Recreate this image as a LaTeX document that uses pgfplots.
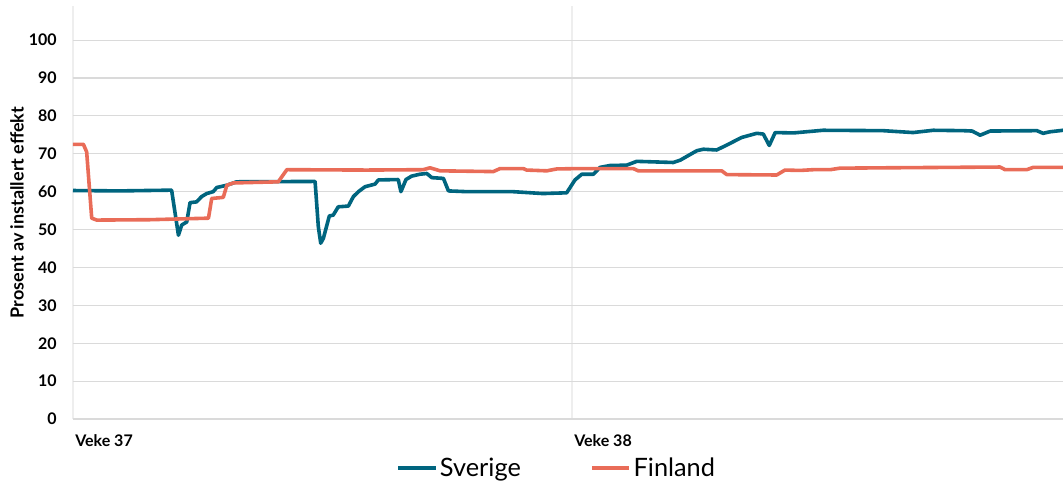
\documentclass[border=0pt]{standalone}
\usepackage{pgfplots}
\pgfplotsset{compat=1.18}
\usepackage{fontspec}
\setmainfont{Lato}
\definecolor{sve}{RGB}{0,101,127}
\definecolor{fin}{RGB}{233,108,88}
\definecolor{gridc}{RGB}{218,218,218}
\begin{document}
\begin{tikzpicture}
\begin{axis}[
  scale only axis,
  width=742.5pt, height=309.75pt,
  xmin=0, xmax=333.3, ymin=0, ymax=109,
  axis line style={draw=none},
  tick style={draw=none},
  xtick={0,168}, xticklabels={Veke 37,Veke 38},
  ytick={0,10,...,100},
  xmajorgrids, ymajorgrids,
  x grid style={draw=gridc!45, line width=0.8pt},
  y grid style={draw=gridc, line width=0.9pt},
  /pgf/number format/assume math mode=true,
  ticklabel style={font=\bfseries\fontsize{12}{14}\selectfont},
  yticklabel style={anchor=east, inner sep=0pt, xshift=-12pt},
  xticklabel style={anchor=west, inner sep=0pt, xshift=1.5pt, yshift=-16.5pt},
  ylabel={Prosent av installert effekt},
  ylabel style={font=\bfseries\fontsize{13.5}{15}\selectfont, at={(axis description cs:-0.0566,0.5)}, anchor=center},
  legend columns=2,
  legend style={draw=none, fill=none, at={(rel axis cs:0.489,0)}, anchor=center, yshift=-36.75pt,
    font=\fontsize{19}{22}\selectfont, /tikz/every even column/.append style={column sep=50pt}},
  legend image code/.code={\draw[#1, line width=2.6pt] (0pt,0pt) -- (28pt,0pt);},
]
\addplot[sve, line width=2.7pt, line join=round] coordinates {
(0,60.3) (15.8,60.2) (33.2,60.4) (35.5,48.5) (36.6,51.2) (38.3,52) (39.4,57.1) (41.6,57.3)
(43.3,58.7) (45.0,59.5) (47.2,60) (48.4,61.1) (51.8,61.7) (55.1,62.6) (81.5,62.7) (82.6,50.7)
(83.4,46.4) (84.3,47.7) (86.3,53.6) (87.6,53.8) (89.3,56) (92.7,56.2) (94.4,58.7) (96.1,60)
(98.3,61.3) (101.7,62) (102.8,63.1) (109.5,63.2) (110.4,60) (112.1,63.2) (114.0,64.1) (116.8,64.6)
(119.1,64.8) (120.8,63.7) (124.7,63.5) (126.4,60.2) (132.6,60) (148.1,60) (158.2,59.5) (166.2,59.7)
(169.0,63.1) (171.3,64.6) (175.2,64.6) (177.4,66.4) (180.8,66.9) (186.4,67) (189.8,68) (202.1,67.7)
(204.4,68.3) (210.0,70.8) (212.2,71.2) (216.7,71) (220.1,72.3) (225.1,74.3) (230.2,75.4) (232.4,75.2)
(234.4,72.2) (236.4,75.6) (242.5,75.5) (252.5,76.2) (272.7,76.1) (282.8,75.6) (289.6,76.2) (299.7,76.1)
(302.7,76.0) (305.4,74.9) (308.8,76) (324.5,76.1) (326.6,75.4) (328.9,75.8) (333.3,76.2)
};
\addlegendentry{Sverige}
\addplot[fin, line width=2.7pt, line join=round] coordinates {
(0,72.5) (3.5,72.5) (4.6,70.5) (6.3,53) (8.0,52.5) (25.9,52.6) (45.6,53) (46.7,58.2)
(50.6,58.5) (51.8,61.7) (54.0,62.3) (69.1,62.6) (72.0,65.8) (98.9,65.7) (117.9,65.8) (120.2,66.3)
(123.6,65.5) (141.5,65.3) (143.8,66.1) (151.6,66.1) (152.7,65.7) (159.5,65.5) (162.9,66) (170.7,66.1)
(188.6,66.1) (190.3,65.5) (218.4,65.5) (220.1,64.5) (236.9,64.4) (239.7,65.7) (244.8,65.6) (249.2,65.8)
(254.9,65.8) (258.2,66.2) (274.0,66.3) (312.1,66.5) (313.8,65.8) (321.1,65.8) (323.2,66.4) (333.3,66.4)
};
\addlegendentry{Finland}
\end{axis}
\pgfresetboundingbox
\path ([xshift=-54.75pt, yshift=-51pt]current axis.south west) rectangle ([yshift=4.5pt]current axis.north east);
\end{tikzpicture}
\end{document}
